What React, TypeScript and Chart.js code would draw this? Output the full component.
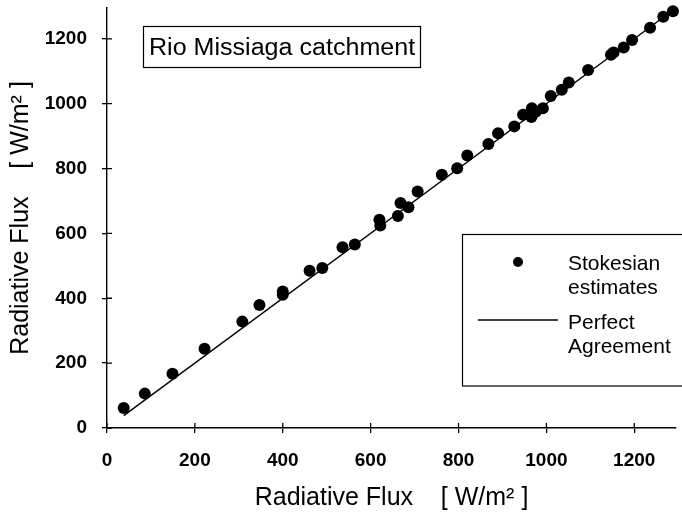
import React, { useEffect, useRef } from "react";
import { Chart, registerables } from "chart.js";

Chart.register(...registerables);

// Measured radiative flux (x) vs Stokesian estimates (y), W/m²
const measuredFlux = [
  38, 86, 149, 222, 308, 347, 400, 400, 461, 490, 536, 564, 620, 622, 662, 668,
  686, 707, 762, 797, 820, 868, 890, 927, 947, 966, 967, 976, 992, 1010, 1035,
  1051, 1095, 1147, 1153, 1176, 1195, 1236, 1266, 1288,
];
const stokesianFlux = [
  62, 106, 167, 244, 328, 379, 421, 411, 485, 493, 557, 566, 642, 624, 654, 694,
  681, 729, 781, 801, 840, 876, 909, 930, 966, 959, 986, 975, 986, 1024, 1043,
  1065, 1104, 1151, 1158, 1173, 1196, 1234, 1268, 1285,
];
const agreementX = [38, 1300];
const agreementY = [38, 1300];
const axisTicks = [0, 200, 400, 600, 800, 1000, 1200];
const axisMin = 0;
const axisMax = 1295;
const seriesLabels = ["Stokesian estimates", "Perfect Agreement"];
const legendLines = [["Stokesian", "estimates"], ["Perfect", "Agreement"]];
const chartTitle = "Rio Missiaga catchment";
const xAxisTitle = "Radiative Flux    [ W/m² ]";
const yAxisTitle = "Radiative Flux    [ W/m² ]";

const FAMILY = "'Liberation Sans', Arial, Helvetica, sans-serif";

const innerTicks = {
  id: "innerTicks",
  afterDraw(chart: any) {
    const { ctx, chartArea, scales } = chart;
    ctx.save();
    ctx.strokeStyle = "#000";
    ctx.lineWidth = 1.3;
    ctx.beginPath();
    for (const v of axisTicks) {
      const px = scales.x.getPixelForValue(v);
      ctx.moveTo(px, chartArea.bottom);
      ctx.lineTo(px, chartArea.bottom - 5);
      const py = scales.y.getPixelForValue(v);
      ctx.moveTo(chartArea.left, py);
      ctx.lineTo(chartArea.left + 5, py);
    }
    ctx.stroke();
    ctx.restore();
  },
};

const titleBox = {
  id: "titleBox",
  afterDraw(chart: any) {
    const { ctx } = chart;
    ctx.save();
    ctx.strokeStyle = "#000";
    ctx.lineWidth = 1.2;
    ctx.strokeRect(143.5, 26.5, 277, 41);
    ctx.fillStyle = "#000";
    ctx.font = `23px ${FAMILY}`;
    ctx.textBaseline = "alphabetic";
    ctx.textAlign = "left";
    ctx.translate(149, 54.5);
    ctx.scale(1.09, 1);
    ctx.fillText(chartTitle, 0, 0);
    ctx.restore();
  },
};

const legendBox = {
  id: "legendBox",
  afterDraw(chart: any) {
    const { ctx } = chart;
    ctx.save();
    ctx.strokeStyle = "#000";
    ctx.fillStyle = "#000";
    ctx.lineWidth = 1.2;
    ctx.strokeRect(462.5, 234.5, 260, 151.5);
    ctx.beginPath();
    ctx.arc(518, 262, 5, 0, Math.PI * 2);
    ctx.fill();
    ctx.lineWidth = 1.3;
    ctx.beginPath();
    ctx.moveTo(478, 320);
    ctx.lineTo(558, 320);
    ctx.stroke();
    ctx.font = `21px ${FAMILY}`;
    ctx.textAlign = "left";
    ctx.textBaseline = "alphabetic";
    ctx.fillText(legendLines[0][0], 568, 270);
    ctx.fillText(legendLines[0][1], 568, 294);
    ctx.fillText(legendLines[1][0], 568, 329);
    ctx.fillText(legendLines[1][1], 568, 353);
    ctx.restore();
  },
};

export default function App() {
  const canvasRef = useRef<HTMLCanvasElement | null>(null);

  useEffect(() => {
    if (!canvasRef.current) return;
    const points = measuredFlux.map((x, i) => ({ x, y: stokesianFlux[i] }));
    const line = agreementX.map((x, i) => ({ x, y: agreementY[i] }));

    const tickFont = { family: FAMILY, size: 19, weight: "bold" as const };
    const titleFont = { family: FAMILY, size: 25, weight: "normal" as const };

    const chart = new Chart(canvasRef.current, {
      type: "scatter",
      data: {
        datasets: [
          {
            label: seriesLabels[0],
            data: points,
            pointRadius: 6,
            pointBackgroundColor: "#000",
            pointBorderWidth: 0,
            borderColor: "#000",
            backgroundColor: "#000",
            clip: false,
            order: 1,
          } as any,
          {
            type: "line",
            label: seriesLabels[1],
            data: line,
            showLine: true,
            pointRadius: 0,
            borderColor: "#000",
            borderWidth: 1.4,
            fill: false,
            order: 2,
          } as any,
        ],
      },
      options: {
        animation: false,
        responsive: false,
        events: [],
        layout: { padding: 0 },
        plugins: {
          legend: { display: false },
          tooltip: { enabled: false },
          title: { display: false },
        },
        scales: {
          x: {
            type: "linear",
            min: axisMin,
            max: axisMax,
            afterBuildTicks: (s: any) => {
              s.ticks = axisTicks.map((v) => ({ value: v }));
            },
            afterFit: (s: any) => {
              s.height = 88;
              s.paddingLeft = 0;
              s.paddingRight = 0;
            },
            grid: {
              display: true,
              drawOnChartArea: false,
              drawTicks: true,
              tickLength: 5,
              color: "#000",
              lineWidth: 1.3,
            },
            border: { display: true, color: "#000", width: 1.4 },
            ticks: {
              color: "#000",
              font: tickFont,
              padding: 16,
              maxRotation: 0,
              autoSkip: false,
              callback: (v: any) => String(v),
            },
            title: {
              display: true,
              text: xAxisTitle,
              color: "#000",
              font: titleFont,
              padding: { top: 0, bottom: 3 },
            },
          },
          y: {
            type: "linear",
            min: axisMin,
            max: axisMax,
            afterBuildTicks: (s: any) => {
              s.ticks = axisTicks.map((v) => ({ value: v }));
            },
            afterFit: (s: any) => {
              s.width = 107;
              s.paddingTop = 8;
              s.paddingBottom = 0;
            },
            grid: {
              display: true,
              drawOnChartArea: false,
              drawTicks: true,
              tickLength: 5,
              color: "#000",
              lineWidth: 1.3,
            },
            border: { display: true, color: "#000", width: 1.4 },
            ticks: {
              color: "#000",
              font: tickFont,
              padding: 15,
              autoSkip: false,
              callback: (v: any) => String(v),
            },
            title: {
              display: true,
              text: yAxisTitle,
              color: "#000",
              font: titleFont,
              padding: { top: 6, bottom: 0 },
            },
          },
        },
      },
      plugins: [innerTicks, titleBox, legendBox],
    });

    return () => {
      chart.destroy();
    };
  }, []);

  return (
    <div
      style={{
        position: "absolute",
        left: 0,
        top: 0,
        width: 682,
        height: 516,
        background: "#fff",
      }}
    >
      <canvas
        ref={canvasRef}
        width={682}
        height={516}
        style={{ display: "block", width: 682, height: 516 }}
      />
    </div>
  );
}
